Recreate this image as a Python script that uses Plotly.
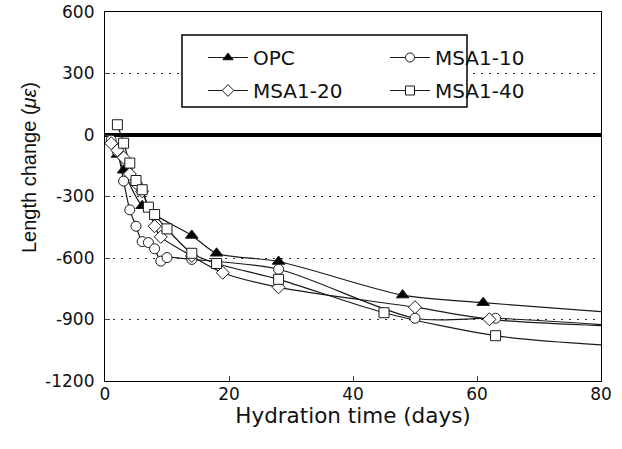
import plotly.graph_objects as go

# ---- data ----
opc_days = [1, 2, 3, 6, 14, 18, 28, 48, 61]
opc_vals = [-30, -95, -172, -345, -490, -577, -617, -781, -818]
opc_end = -862

m10_days = [1, 2, 3, 4, 5, 6, 7, 8, 9, 10, 14, 28, 50, 63]
m10_vals = [-25, -80, -225, -365, -445, -520, -525, -555, -615, -598, -607, -655, -894, -894]
m10_end = -925

m20_days = [1, 2, 3, 4, 5, 6, 8, 9, 14, 19, 28, 50, 62]
m20_vals = [-40, -75, -110, -190, -235, -275, -445, -497, -590, -672, -743, -840, -899]
m20_end = -930

m40_days = [2, 3, 4, 5, 6, 7, 8, 10, 14, 18, 28, 45, 63]
m40_vals = [50, -40, -137, -222, -267, -352, -388, -458, -577, -627, -704, -867, -979]
m40_end = -1024

end_day = 80
x_ticks = [0, 20, 40, 60, 80]
y_ticks = [-1200, -900, -600, -300, 0, 300, 600]
y_ticktext = [str(v) for v in y_ticks]

series = [
    ("OPC", opc_days, opc_vals, opc_end, "triangle-up", "black", 11, "legend"),
    ("MSA1-10", m10_days, m10_vals, m10_end, "circle", "white", 10, "legend2"),
    ("MSA1-20", m20_days, m20_vals, m20_end, "diamond", "white", 10, "legend"),
    ("MSA1-40", m40_days, m40_vals, m40_end, "square", "white", 10, "legend2"),
]

fig = go.Figure()
LC = "#1a1a1a"
for name, xd, yd, yend, sym, fill, size, lg in series:
    fig.add_trace(go.Scatter(
        x=xd + [end_day], y=yd + [yend], mode="lines",
        line=dict(color=LC, width=1.2, shape="spline", smoothing=0.8),
        showlegend=False, hoverinfo="skip"))
for name, xd, yd, yend, sym, fill, size, lg in series:
    fig.add_trace(go.Scatter(
        x=xd, y=yd, mode="markers", name=name, showlegend=False,
        marker=dict(symbol=sym, size=size, color=fill,
                    line=dict(color=LC, width=1))))
for name, xd, yd, yend, sym, fill, size, lg in series:
    fig.add_trace(go.Scatter(
        x=[None], y=[None], mode="lines+markers", name=name, legend=lg,
        legendgroup=name,
        line=dict(color=LC, width=1.2),
        marker=dict(symbol=sym, size=9, color=fill,
                    line=dict(color=LC, width=1))))

FONT = "DejaVu Sans"
x0, y0 = 105, 12
pw, ph = 496, 369

def px2paper_x(px):
    return (px - x0) / pw

def px2paper_y(py):
    return 1 - (py - y0) / ph

fig.add_shape(type="rect", xref="paper", yref="paper",
              x0=px2paper_x(182), x1=px2paper_x(467),
              y0=px2paper_y(107), y1=px2paper_y(35),
              line=dict(color="black", width=1.5), fillcolor="white",
              layer="above")

fig.add_annotation(text="Length change (<i>με</i>)", xref="paper", yref="paper",
                   x=px2paper_x(29), y=px2paper_y(168), textangle=-90,
                   showarrow=False, xanchor="center", yanchor="middle",
                   font=dict(family="Liberation Sans", size=20, color="#111"))

leg_common = dict(bgcolor="rgba(0,0,0,0)", borderwidth=0,
                  font=dict(family=FONT, size=20, color="#111"),
                  tracegroupgap=4, xanchor="left", yanchor="top",
                  orientation="v", itemwidth=40)
fig.update_layout(
    width=622, height=449,
    margin=dict(l=x0, r=622 - x0 - pw, t=y0, b=449 - y0 - ph),
    plot_bgcolor="white", paper_bgcolor="white",
    font=dict(family=FONT, color="#111"),
    legend=dict(x=px2paper_x(203), y=px2paper_y(38), **leg_common),
    legend2=dict(x=px2paper_x(385), y=px2paper_y(38), **leg_common),
    xaxis=dict(range=[0, 80], tickvals=x_ticks, ticks="inside", ticklen=5,
               tickwidth=1.2, showline=True, linecolor="black", linewidth=1.2,
               mirror=True, showgrid=False, zeroline=False, automargin=False,
               ticklabelstandoff=-3,
               tickfont=dict(family=FONT, size=17, color="#111"),
               title=dict(text="Hydration time (days)",
                          font=dict(family=FONT, size=21.5, color="#111"),
                          standoff=0)),
    yaxis=dict(range=[-1200, 600], tickvals=y_ticks, ticktext=y_ticktext,
               ticks="inside", ticklen=5, automargin=False,
               ticklabelstandoff=6,
               tickwidth=1.2, showline=True, linecolor="black", linewidth=1.2,
               mirror=True, showgrid=True, gridcolor="#333", gridwidth=1.2,
               griddash="2px,6px",
               zeroline=True, zerolinecolor="black", zerolinewidth=4,
               tickfont=dict(family=FONT, size=17, color="#111")),
)

fig.write_html("out.html")
